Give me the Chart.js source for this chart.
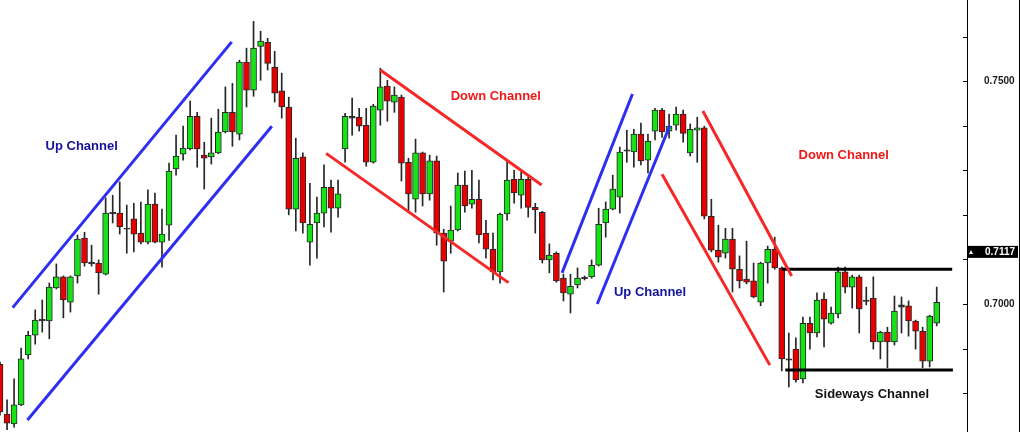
<!DOCTYPE html>
<html>
<head>
<meta charset="utf-8">
<script src="https://cdn.jsdelivr.net/npm/chart.js@4.4.0/dist/chart.umd.min.js"></script>
<style>
html, body { margin: 0; padding: 0; background: #fff; }
#wrap { width: 1020px; height: 432px; position: relative; }
</style>
</head>
<body>
<div id="wrap"><canvas id="priceChart"></canvas></div>
<script>
// Candle data (price), one entry per bar
const openPrices = [
    0.6865, 0.6753, 0.6731, 0.6774, 0.6886, 0.6930, 0.6962, 0.6962, 0.7036, 0.7061,
    0.7004, 0.7063, 0.7148, 0.7094, 0.7092, 0.7067, 0.7203, 0.7204, 0.7170, 0.7191,
    0.7159, 0.7139, 0.7224, 0.7139, 0.7177, 0.7303, 0.7336, 0.7348, 0.7421, 0.7334,
    0.7330, 0.7339, 0.7386, 0.7430, 0.7381, 0.7543, 0.7480, 0.7578, 0.7587, 0.7531,
    0.7478, 0.7442, 0.7213, 0.7330, 0.7139, 0.7182, 0.7204, 0.7262, 0.7215, 0.7348,
    0.7421, 0.7419, 0.7401, 0.7318, 0.7435, 0.7489, 0.7453, 0.7464, 0.7318, 0.7235,
    0.7339, 0.7247, 0.7321, 0.7159, 0.7141, 0.7166, 0.7267, 0.7224, 0.7235, 0.7159,
    0.7123, 0.7072, 0.7202, 0.7280, 0.7244, 0.7280, 0.7217, 0.7206, 0.7099, 0.7114,
    0.7058, 0.7022, 0.7043, 0.7057, 0.7061, 0.7087, 0.7182, 0.7213, 0.7240, 0.7343,
    0.7341, 0.7381, 0.7323, 0.7388, 0.7435, 0.7388, 0.7401, 0.7426, 0.7339, 0.7390,
    0.7395, 0.7197, 0.7121, 0.7114, 0.7146, 0.7078, 0.7056, 0.7052, 0.7004, 0.7092,
    0.7123, 0.7081, 0.6877, 0.6899, 0.6832, 0.6957, 0.6935, 0.7011, 0.6957, 0.6978,
    0.7072, 0.7038, 0.7061, 0.7009, 0.7013, 0.6915, 0.6937, 0.6915, 0.6993, 0.6996,
    0.6962, 0.6939, 0.6872, 0.6957
];
const highPrices = [
    0.6870, 0.6785, 0.6832, 0.6901, 0.6939, 0.6987, 0.7009, 0.7047, 0.7090, 0.7063,
    0.7063, 0.7155, 0.7161, 0.7132, 0.7099, 0.7238, 0.7244, 0.7274, 0.7222, 0.7226,
    0.7229, 0.7256, 0.7249, 0.7213, 0.7316, 0.7379, 0.7399, 0.7455, 0.7430, 0.7363,
    0.7417, 0.7437, 0.7487, 0.7495, 0.7547, 0.7574, 0.7634, 0.7612, 0.7596, 0.7567,
    0.7518, 0.7464, 0.7372, 0.7339, 0.7271, 0.7240, 0.7312, 0.7278, 0.7278, 0.7428,
    0.7462, 0.7439, 0.7439, 0.7448, 0.7529, 0.7502, 0.7487, 0.7469, 0.7327, 0.7370,
    0.7341, 0.7334, 0.7332, 0.7168, 0.7220, 0.7294, 0.7298, 0.7300, 0.7278, 0.7188,
    0.7159, 0.7204, 0.7321, 0.7300, 0.7296, 0.7285, 0.7226, 0.7208, 0.7135, 0.7117,
    0.7067, 0.7067, 0.7081, 0.7063, 0.7099, 0.7215, 0.7229, 0.7289, 0.7352, 0.7390,
    0.7392, 0.7406, 0.7381, 0.7439, 0.7439, 0.7426, 0.7442, 0.7435, 0.7404, 0.7419,
    0.7399, 0.7235, 0.7177, 0.7170, 0.7170, 0.7108, 0.7141, 0.7092, 0.7094, 0.7130,
    0.7150, 0.7083, 0.6935, 0.6924, 0.6971, 0.6971, 0.7025, 0.7025, 0.6993, 0.7083,
    0.7083, 0.7065, 0.7065, 0.7038, 0.7061, 0.6939, 0.6948, 0.7018, 0.7016, 0.7007,
    0.6964, 0.6948, 0.6975, 0.7038
];
const lowPrices = [
    0.6751, 0.6718, 0.6724, 0.6772, 0.6877, 0.6910, 0.6937, 0.6922, 0.7034, 0.6969,
    0.6982, 0.7047, 0.7085, 0.7085, 0.7022, 0.7065, 0.7182, 0.7157, 0.7114, 0.7117,
    0.7135, 0.7135, 0.7137, 0.7083, 0.7143, 0.7289, 0.7323, 0.7346, 0.7307, 0.7258,
    0.7314, 0.7337, 0.7384, 0.7354, 0.7368, 0.7442, 0.7466, 0.7502, 0.7525, 0.7453,
    0.7417, 0.7200, 0.7164, 0.7159, 0.7087, 0.7103, 0.7173, 0.7161, 0.7195, 0.7318,
    0.7379, 0.7388, 0.7309, 0.7316, 0.7401, 0.7410, 0.7430, 0.7276, 0.7206, 0.7206,
    0.7220, 0.7233, 0.7132, 0.7027, 0.7114, 0.7164, 0.7206, 0.7215, 0.7137, 0.7103,
    0.7054, 0.7047, 0.7188, 0.7226, 0.7215, 0.7195, 0.7159, 0.7092, 0.7070, 0.7049,
    0.7007, 0.6980, 0.7036, 0.7054, 0.7058, 0.7085, 0.7150, 0.7211, 0.7204, 0.7318,
    0.7307, 0.7312, 0.7294, 0.7368, 0.7374, 0.7372, 0.7390, 0.7363, 0.7332, 0.7318,
    0.7191, 0.7117, 0.7094, 0.7103, 0.7027, 0.7036, 0.7045, 0.7014, 0.6996, 0.7047,
    0.7078, 0.6850, 0.6814, 0.6825, 0.6823, 0.6899, 0.6926, 0.6904, 0.6955, 0.6969,
    0.7025, 0.6991, 0.6935, 0.6998, 0.6899, 0.6877, 0.6857, 0.6908, 0.6935, 0.6928,
    0.6899, 0.6857, 0.6859, 0.6951
];
const closePrices = [
    0.6758, 0.6733, 0.6774, 0.6877, 0.6930, 0.6964, 0.6966, 0.7038, 0.7061, 0.7009,
    0.7061, 0.7146, 0.7092, 0.7090, 0.7070, 0.7204, 0.7206, 0.7173, 0.7168, 0.7157,
    0.7139, 0.7224, 0.7139, 0.7157, 0.7298, 0.7332, 0.7350, 0.7421, 0.7348, 0.7327,
    0.7339, 0.7386, 0.7430, 0.7386, 0.7543, 0.7480, 0.7574, 0.7590, 0.7540, 0.7473,
    0.7442, 0.7213, 0.7327, 0.7182, 0.7179, 0.7204, 0.7262, 0.7215, 0.7247, 0.7421,
    0.7417, 0.7399, 0.7318, 0.7444, 0.7487, 0.7455, 0.7469, 0.7316, 0.7247, 0.7339,
    0.7247, 0.7321, 0.7159, 0.7096, 0.7166, 0.7267, 0.7220, 0.7235, 0.7155, 0.7123,
    0.7072, 0.7202, 0.7278, 0.7249, 0.7280, 0.7217, 0.7211, 0.7099, 0.7110, 0.7052,
    0.7025, 0.7040, 0.7058, 0.7060, 0.7087, 0.7179, 0.7213, 0.7258, 0.7341, 0.7346,
    0.7381, 0.7321, 0.7365, 0.7435, 0.7386, 0.7399, 0.7426, 0.7383, 0.7392, 0.7395,
    0.7197, 0.7121, 0.7105, 0.7146, 0.7078, 0.7052, 0.7049, 0.7016, 0.7092, 0.7123,
    0.7081, 0.6877, 0.6874, 0.6830, 0.6957, 0.6935, 0.7009, 0.6966, 0.6980, 0.7072,
    0.7038, 0.7061, 0.6989, 0.7006, 0.6915, 0.6937, 0.6915, 0.6984, 0.6998, 0.6962,
    0.6939, 0.6872, 0.6973, 0.7004
];

// Channel lines, endpoints as [bar index, price]
const upChannel1Top = [[1.8, 0.6992], [32.9, 0.7588]];
const upChannel1Bottom = [[3.9, 0.6740], [38.6, 0.7399]];
const downChannel1Top = [[54.0, 0.7525], [76.9, 0.7267]];
const downChannel1Bottom = [[46.3, 0.7338], [72.2, 0.7048]];
const upChannel2Top = [[79.8, 0.7070], [89.8, 0.7471]];
const upChannel2Bottom = [[84.8, 0.7000], [95.1, 0.7400]];
const downChannel2Top = [[99.8, 0.7433], [112.4, 0.7063]];
const downChannel2Bottom = [[94.0, 0.7291], [109.3, 0.6863]];
const sidewaysTop = [[111.0, 0.7078], [135.2, 0.7078]];
const sidewaysBottom = [[111.5, 0.6852], [135.3, 0.6852]];

// Channel captions: text, bar index, price
const captionTexts = ['Up Channel', 'Down Channel', 'Up Channel', 'Down Channel', 'Sideways Channel'];
const captionBars = [11.6, 70.4, 92.3, 119.8, 123.8];
const captionPrices = [0.7354, 0.7466, 0.7025, 0.7334, 0.6798];

// Axis ticks
const tickValues = [0.68, 0.69, 0.70, 0.71, 0.72, 0.73, 0.74, 0.75, 0.76];
const labeledTicks = ['0.7000', '0.7500'];
const lastPrice = 0.7117;

const GREEN = '#16e316';
const RED = '#e80000';
const OUTLINE = '#262626';
const BLUE = '#2e2ef2';
const LINE_RED = '#f52828';

// Build candle datasets
const bars = openPrices.map((o, i) => i);
const wickData = bars.map(i => ({ x: i, y: [lowPrices[i], highPrices[i]] }));
const bodyData = bars.map(i => ({ x: i, y: [openPrices[i], closePrices[i]] }));
const bodyColors = bars.map(i => {
    const diff = closePrices[i] - openPrices[i];
    if (Math.abs(diff) < 0.0005) return OUTLINE;
    return diff > 0 ? GREEN : RED;
});

function channelLine(points, color, width) {
    return {
        type: 'line',
        data: points.map(p => ({ x: p[0], y: p[1] })),
        borderColor: color,
        borderWidth: width,
        pointRadius: 0,
        fill: false,
        order: 0
    };
}

const captionColors = ['#12129a', '#f01818', '#12129a', '#f01818', '#111'];

// Plugin: inner tick marks, last price tag, captions
const decorations = {
    id: 'decorations',
    afterDatasetsDraw(chart) {
        const ctx = chart.ctx;
        const x = chart.scales.x;
        const y = chart.scales.y;

        ctx.save();
        ctx.font = 'bold 13px "Liberation Sans", Arial, sans-serif';
        ctx.textAlign = 'center';
        ctx.textBaseline = 'middle';
        captionTexts.forEach((t, i) => {
            ctx.fillStyle = captionColors[i];
            ctx.fillText(t, x.getPixelForValue(captionBars[i]), y.getPixelForValue(captionPrices[i]));
        });
        ctx.restore();
    },
    afterDraw(chart) {
        const ctx = chart.ctx;
        const y = chart.scales.y;
        const axisX = chart.chartArea.right;

        ctx.save();
        ctx.strokeStyle = '#000';
        ctx.lineWidth = 1;
        tickValues.forEach(v => {
            const py = Math.round(y.getPixelForValue(v)) + 0.5;
            ctx.beginPath();
            ctx.moveTo(axisX - 4, py);
            ctx.lineTo(axisX, py);
            ctx.stroke();
        });

        // right frame
        ctx.beginPath();
        ctx.moveTo(chart.width - 0.5, 0);
        ctx.lineTo(chart.width - 0.5, chart.height);
        ctx.stroke();

        // last price tag
        const py = y.getPixelForValue(lastPrice);
        ctx.fillStyle = '#000';
        ctx.fillRect(axisX, py - 6, 51, 12);
        ctx.fillStyle = '#fff';
        ctx.beginPath();
        ctx.moveTo(axisX + 2, py + 2);
        ctx.lineTo(axisX + 6, py + 2);
        ctx.lineTo(axisX + 4, py - 2);
        ctx.closePath();
        ctx.fill();
        ctx.font = 'bold 10px "Liberation Sans", Arial, sans-serif';
        ctx.textAlign = 'left';
        ctx.textBaseline = 'middle';
        ctx.fillText(lastPrice.toFixed(4), axisX + 18, py + 0.5);
        ctx.restore();
    }
};

const ctx = document.getElementById('priceChart').getContext('2d');
const chart = new Chart(ctx, {
    type: 'bar',
    data: {
        datasets: [
            channelLine(upChannel1Top, BLUE, 3),
            channelLine(upChannel1Bottom, BLUE, 3),
            channelLine(downChannel1Top, LINE_RED, 3),
            channelLine(downChannel1Bottom, LINE_RED, 3),
            channelLine(upChannel2Top, BLUE, 3),
            channelLine(upChannel2Bottom, BLUE, 3),
            channelLine(downChannel2Top, LINE_RED, 3),
            channelLine(downChannel2Bottom, LINE_RED, 3),
            channelLine(sidewaysTop, '#000', 3),
            channelLine(sidewaysBottom, '#000', 3),
            {
                data: bodyData,
                backgroundColor: bodyColors,
                borderColor: OUTLINE,
                borderWidth: 1,
                borderSkipped: false,
                barThickness: 6,
                grouped: false,
                order: 1
            },
            {
                data: wickData,
                backgroundColor: OUTLINE,
                borderWidth: 0,
                barThickness: 1,
                grouped: false,
                order: 2
            }
        ]
    },
    options: {
        responsive: true,
        maintainAspectRatio: false,
        animation: false,
        layout: { padding: 0 },
        plugins: {
            legend: { display: false },
            tooltip: { enabled: false }
        },
        scales: {
            x: {
                type: 'linear',
                min: 0,
                max: 137.3,
                offset: false,
                display: false
            },
            y: {
                position: 'right',
                min: 0.6713,
                max: 0.7682,
                grid: { display: false },
                border: { display: true, color: '#000', width: 1 },
                afterBuildTicks: scale => {
                    scale.ticks = tickValues.map(v => ({ value: v }));
                },
                afterFit: scale => {
                    scale.width = 53;
                    scale.paddingTop = 0;
                    scale.paddingBottom = 0;
                },
                ticks: {
                    padding: 9,
                    color: '#1a1a1a',
                    font: { family: '"Liberation Sans", Arial, sans-serif', size: 10, weight: 'bold' },
                    callback: value => {
                        const s = Number(value).toFixed(4);
                        return labeledTicks.includes(s) ? s : '';
                    }
                }
            }
        }
    },
    plugins: [decorations]
});
</script>
</body>
</html>
